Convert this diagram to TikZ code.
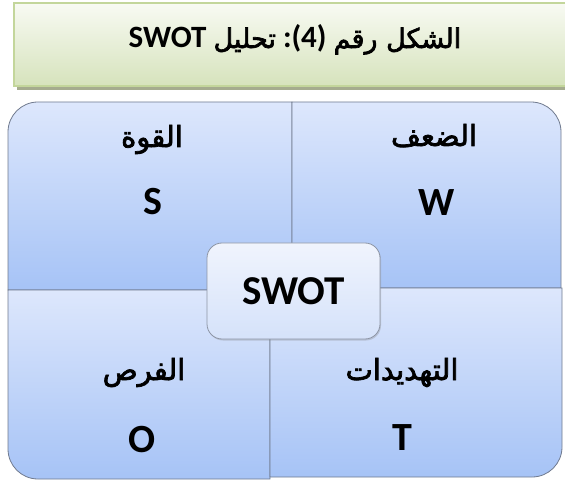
\documentclass[tikz,border=0pt]{standalone}
\usepackage{fontspec}
\setmainfont{Carlito}
\newfontfamily\arabicfont[Script=Arabic, BoldFont={DejaVu Sans}, BoldFeatures={FakeBold=2.5}]{DejaVu Sans}
\TeXXeTstate=1
\usetikzlibrary{shadows}
\definecolor{bleuHaut}{RGB}{221,231,252}
\definecolor{bleuBas}{RGB}{166,195,246}
\definecolor{centreHaut}{RGB}{240,244,253}
\definecolor{centreBas}{RGB}{213,226,250}
\definecolor{vertHaut}{RGB}{248,250,243}
\definecolor{vertBas}{RGB}{214,227,188}
\definecolor{vertBord}{RGB}{195,214,155}
\definecolor{ombre}{RGB}{165,172,142}
\definecolor{trait}{RGB}{112,122,142}

\begin{document}
\begin{tikzpicture}[x=1pt,y=-1pt]
	\tikzstyle{case}=[draw=trait, line width=0.8pt, top color=bleuHaut, bottom color=bleuBas]
	\tikzstyle{arabe}=[anchor=base, font=\arabicfont\bfseries\fontsize{29}{29}\selectfont]
	\tikzstyle{lettre}=[anchor=base, font=\bfseries\fontsize{40}{40}\selectfont]
	\useasboundingbox (0,0) rectangle (565,481);
	% bandeau du titre
	\fill[ombre] (17,7) rectangle (590,90);
	\draw[vertBord, line width=1.5pt, top color=vertHaut, bottom color=vertBas] (14,3) rectangle (590,86);
	\node[anchor=base, font=\bfseries\fontsize{31}{31}\selectfont] (titre) at (295,48)
		{\beginR{\arabicfont\fontsize{27}{27}\selectfont الشكل رقم} \beginL:(4)\endL{} {\arabicfont\fontsize{27}{27}\selectfont تحليل} \beginL SWOT\endL\endR};
	% les quatre cases
	\draw[case] (292,290) -- (8,290) -- (8,132) .. controls (8,115.4) and (21.4,102) .. (38,102) -- (292,102) -- cycle; % haut gauche
	\draw[case] (292,102) -- (531,102) .. controls (547.6,102) and (561,115.4) .. (561,132) -- (561,288) -- (292,288) -- cycle; % haut droite
	\draw[case] (8,290) -- (270,290) -- (270,479) -- (38,479) .. controls (21.4,479) and (8,465.6) .. (8,449) -- cycle; % bas gauche
	\draw[case] (270,288) -- (562,288) -- (562,447) .. controls (562,463.6) and (548.6,477) .. (532,477) -- (270,477) -- cycle; % bas droite
	\node[arabe] (force) at (152,147) {\beginR القوة\endR};
	\node[lettre] (s) at (153,215) {S};
	\node[arabe] (faiblesse) at (434,146) {\beginR الضعف\endR};
	\node[lettre] (w) at (437,216) {W};
	\node[arabe] (opportunites) at (144,380) {\beginR الفرص\endR};
	\node[lettre] (o) at (142,452) {O};
	\node[arabe] (menaces) at (402,380) {\beginR التهديدات\endR};
	\node[lettre] (t) at (402,450) {T};
	% case du milieu
	\node[draw=trait!80, line width=0.8pt, rounded corners=15pt, minimum width=173pt, minimum height=96pt,
		top color=centreHaut, bottom color=centreBas, drop shadow={opacity=0.3, shadow xshift=1pt, shadow yshift=-1.5pt},
		font=\bfseries\fontsize{41}{41}\selectfont] (centre) at (293.5,291) {SWOT};
\end{tikzpicture}
\end{document}
